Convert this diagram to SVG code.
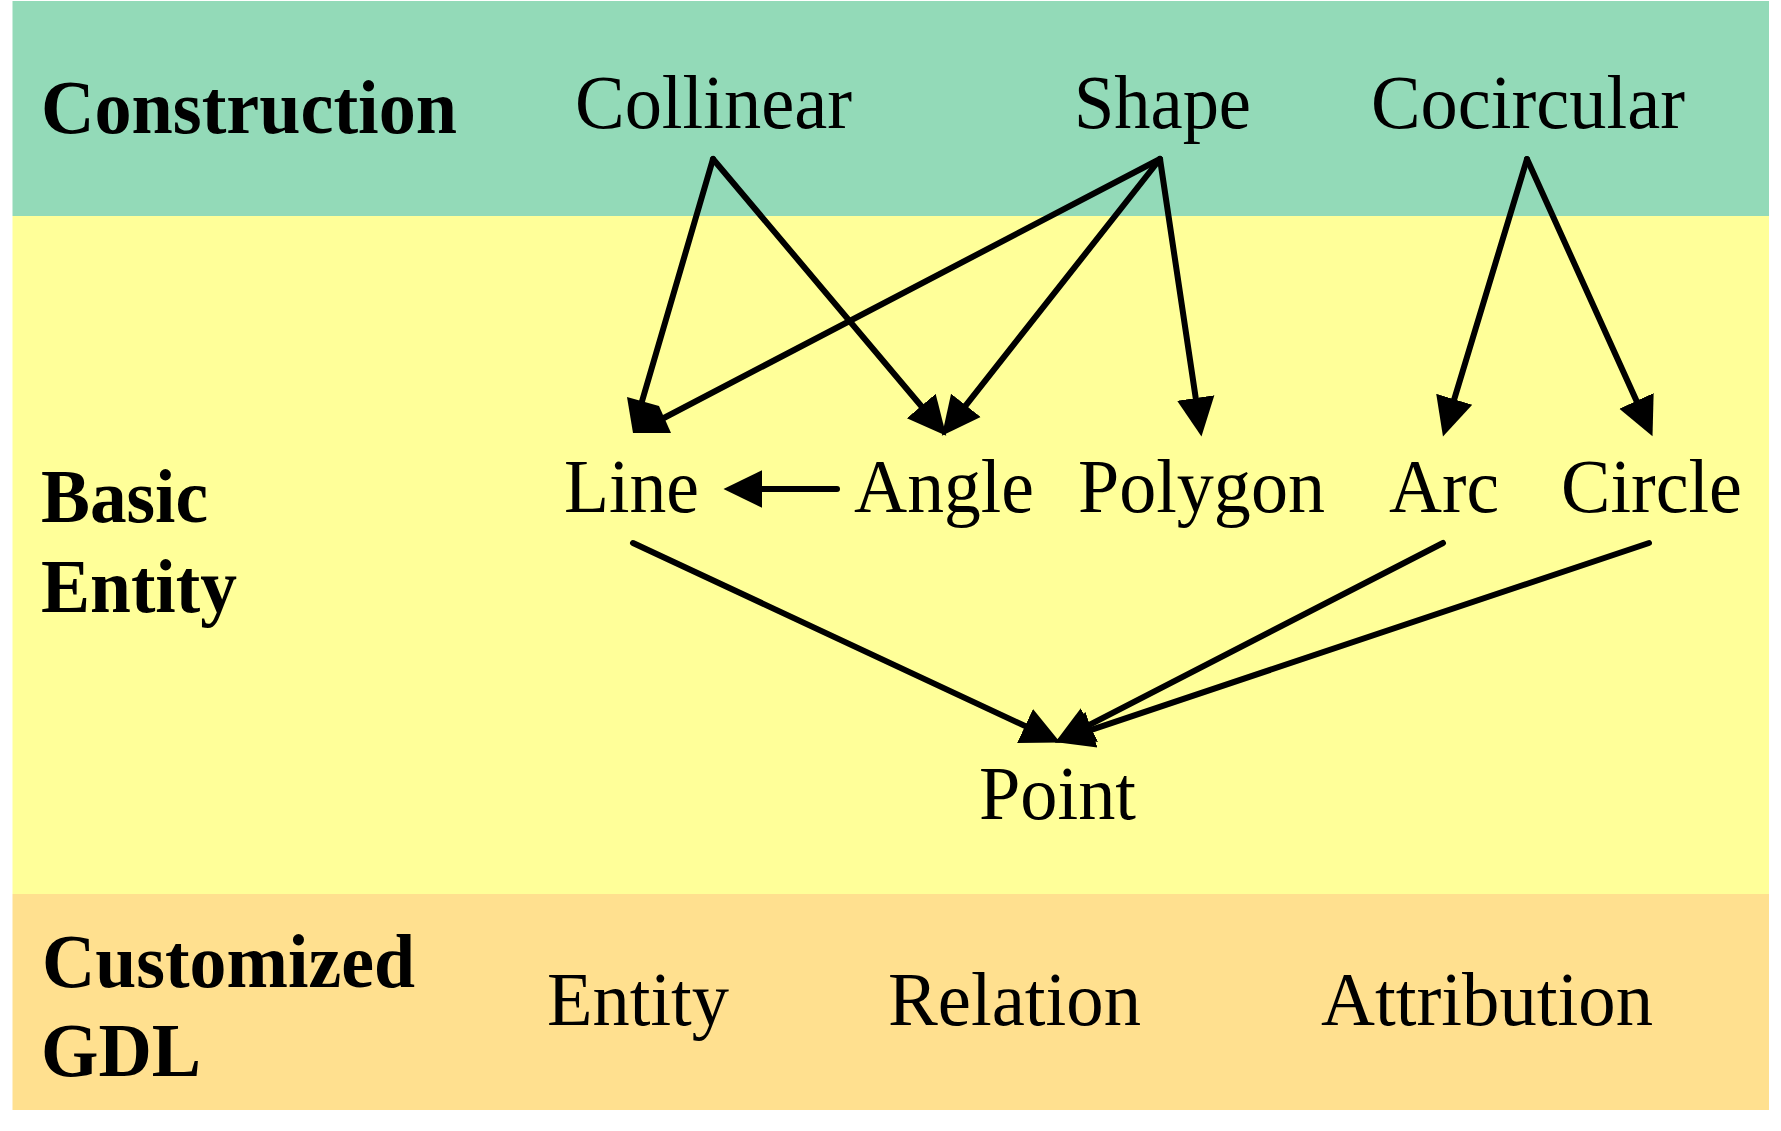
<svg xmlns="http://www.w3.org/2000/svg" width="1781" height="1131" viewBox="0 0 1781 1131">
<style>
.t{font-family:"Liberation Serif","Times New Roman",serif;font-size:76px;fill:#000}
.b{font-weight:bold}
.c{fill:none;stroke:#000;stroke-width:6;stroke-linecap:round}
</style>
<defs>
<marker id="ah" markerUnits="userSpaceOnUse" markerWidth="40" markerHeight="40" viewBox="0 -17 34 34" refX="13" refY="0" orient="auto">
<path d="M0,-16 L33,0 L0,16 Z" fill="#000"/>
</marker>
</defs>
<rect width="1781" height="1131" fill="#fff"/>
<g id="bands">
<rect x="12.5" y="1" width="1756.5" height="215" fill="#93DAB8"/>
<rect x="12.5" y="216" width="1756.5" height="678" fill="#FFFF99"/>
<rect x="12.5" y="894" width="1756.5" height="216" fill="#FFE08F"/>
</g>
<g id="layer-labels">
<text class="t b" x="41" y="133" textLength="416" lengthAdjust="spacingAndGlyphs">Construction</text>
<text class="t b" x="41" y="522" textLength="167" lengthAdjust="spacingAndGlyphs">Basic</text>
<text class="t b" x="41" y="612" textLength="196" lengthAdjust="spacingAndGlyphs">Entity</text>
<text class="t b" x="42" y="987" textLength="373" lengthAdjust="spacingAndGlyphs">Customized</text>
<text class="t b" x="41" y="1076" textLength="160" lengthAdjust="spacingAndGlyphs">GDL</text>
</g>
<g id="connectors">
<line class="c" x1="713" y1="159" x2="638" y2="415"/>
<line class="c" x1="1160" y1="159" x2="660" y2="420"/>
<polygon points="627,397 659,406 671,433 633,433" fill="#000"/>
<line class="c" x1="713" y1="159" x2="931.1" y2="417.7" marker-end="url(#ah)"/>
<line class="c" x1="1160" y1="159" x2="956.4" y2="417.3" marker-end="url(#ah)"/>
<line class="c" x1="1160" y1="159" x2="1198" y2="413.2" marker-end="url(#ah)"/>
<line class="c" x1="1527" y1="159" x2="1449.8" y2="413.9" marker-end="url(#ah)"/>
<line class="c" x1="1527" y1="159" x2="1642.8" y2="414.8" marker-end="url(#ah)"/>
<line class="c" x1="837" y1="489" x2="747" y2="489" marker-end="url(#ah)"/>
<line class="c" x1="633" y1="543" x2="1038.9" y2="732.5" marker-end="url(#ah)"/>
<line class="c" x1="1443" y1="543" x2="1075.8" y2="731.9" marker-end="url(#ah)"/>
<line class="c" x1="1649" y1="543" x2="1077" y2="734.6" marker-end="url(#ah)"/>
</g>
<g id="collinear"><text class="t" x="575" y="128" textLength="277" lengthAdjust="spacingAndGlyphs">Collinear</text></g>
<g id="shape"><text class="t" x="1074" y="128" textLength="177" lengthAdjust="spacingAndGlyphs">Shape</text></g>
<g id="cocircular"><text class="t" x="1371" y="128" textLength="314" lengthAdjust="spacingAndGlyphs">Cocircular</text></g>
<g id="line"><text class="t" x="564" y="512" textLength="135" lengthAdjust="spacingAndGlyphs">Line</text></g>
<g id="angle"><text class="t" x="854" y="512" textLength="180" lengthAdjust="spacingAndGlyphs">Angle</text></g>
<g id="polygon"><text class="t" x="1078" y="512" textLength="247" lengthAdjust="spacingAndGlyphs">Polygon</text></g>
<g id="arc"><text class="t" x="1389" y="512" textLength="110" lengthAdjust="spacingAndGlyphs">Arc</text></g>
<g id="circle"><text class="t" x="1561" y="512" textLength="181" lengthAdjust="spacingAndGlyphs">Circle</text></g>
<g id="point"><text class="t" x="979" y="819" textLength="157" lengthAdjust="spacingAndGlyphs">Point</text></g>
<g id="entity"><text class="t" x="547" y="1025" textLength="182" lengthAdjust="spacingAndGlyphs">Entity</text></g>
<g id="relation"><text class="t" x="888" y="1025" textLength="253" lengthAdjust="spacingAndGlyphs">Relation</text></g>
<g id="attribution"><text class="t" x="1321" y="1025" textLength="332" lengthAdjust="spacingAndGlyphs">Attribution</text></g>
</svg>
